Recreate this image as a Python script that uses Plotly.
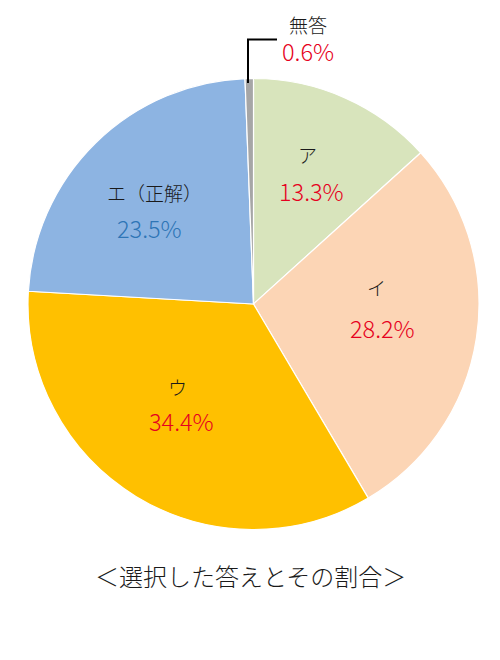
import plotly.graph_objects as go

categories = ["ア", "イ", "ウ", "エ（正解）", "無答"]
values = [13.3, 28.2, 34.4, 23.5, 0.6]
colors = ["#D8E4BC", "#FCD5B5", "#FFC000", "#8DB4E2", "#A6A6A6"]
pct_colors = ["#E60020", "#E60020", "#E60020", "#2E75B6", "#E60020"]
title_text = "＜選択した答えとその割合＞"

W, H = 500, 660
OFF = 8  # page body margin compensation
FONT = "Noto Sans CJK JP"


def px(x):
    return (x - OFF) / W


def py(y):
    return 1 - (y - OFF) / H


fig = go.Figure()
fig.add_trace(go.Pie(
    labels=categories, values=values, sort=False, direction="clockwise", rotation=0,
    marker=dict(colors=colors, line=dict(color="white", width=1.2)),
    textinfo="none", hoverinfo="label+percent", showlegend=False,
    domain=dict(x=[px(28), px(479)], y=[py(530), py(78)]),
))

# label positions (pixels) for category name and percent
label_pos = [(307, 154, 311, 191), (376, 287, 382, 328), (177, 386, 181, 421),
             (154, 192, 149, 228), (306, 25, 310, 53)]
anns = []
for cat, v, pc, (lx, ly, qx, qy) in zip(categories, values, pct_colors, label_pos):
    if cat == "無答":
        # outside label: name and percent as one two-line text
        anns.append(dict(x=px((lx + qx) / 2), y=py((ly + qy) / 2), xref="paper", yref="paper",
                         text=(f"<span style='font-size:19px;color:#1a1a1a'>{cat}</span><br>"
                               f"<span style='font-size:23.5px'>{v}%</span>"),
                         xanchor="center", yanchor="middle", align="center",
                         showarrow=False,
                         font=dict(family=FONT, size=21.5, color=pc, weight=300)))
        continue
    anns.append(dict(x=px(lx), y=py(ly), xref="paper", yref="paper", text=cat,
                     xanchor="center", yanchor="middle",
                     showarrow=False, font=dict(family=FONT, size=19, color="#1a1a1a", weight=300)))
    anns.append(dict(x=px(qx), y=py(qy), xref="paper", yref="paper", text=f"{v}%",
                     xanchor="center", yanchor="middle",
                     showarrow=False, font=dict(family=FONT, size=23.5, color=pc, weight=300)))
anns.append(dict(x=px(250), y=py(575), xref="paper", yref="paper", text=title_text,
                 xanchor="center", yanchor="middle",
                 showarrow=False, font=dict(family=FONT, size=24, color="#1a1a1a", weight=300)))

fig.update_layout(
    width=W, height=H, margin=dict(l=0, r=0, t=0, b=0),
    paper_bgcolor="white", plot_bgcolor="white",
    annotations=anns,
    shapes=[dict(type="path", xref="paper", yref="paper",
                 path=f"M {px(248)},{py(83)} L {px(248)},{py(39.5)} L {px(277)},{py(39.5)}",
                 line=dict(color="black", width=2))],
)
fig.write_html("out.html")
